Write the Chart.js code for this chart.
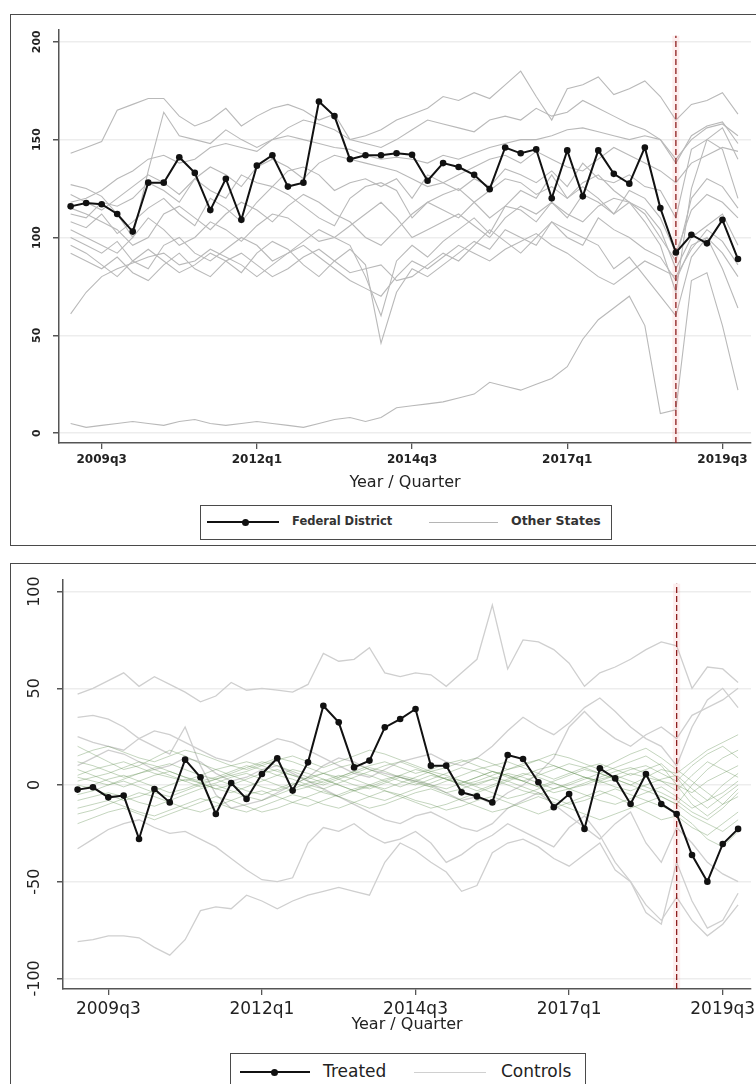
<!DOCTYPE html>
<html>
<head>
<meta charset="utf-8">
<script src="https://cdn.jsdelivr.net/npm/chart.js@4.4.0/dist/chart.umd.min.js"></script>
<style>
html,body{margin:0;padding:0;background:#fff;}
body{width:756px;height:1084px;overflow:hidden;position:relative;font-family:"DejaVu Sans",sans-serif;color:#222;}
.box{position:absolute;border:1.5px solid #4a4a4a;box-sizing:border-box;}
canvas{position:absolute;left:0;}
.legend{position:absolute;border:1.5px solid #4a4a4a;box-sizing:border-box;background:#fff;}
.legend .ls{position:absolute;height:0;}
.legend .dot{position:absolute;width:7px;height:7px;border-radius:50%;background:#111;}
.legend span{position:absolute;white-space:nowrap;line-height:1;}
</style>
</head>
<body>
<div class="box" style="left:10px;top:14px;width:760px;height:532px;"></div>
<div class="box" style="left:10px;top:563px;width:760px;height:540px;"></div>
<canvas id="top" width="756" height="486" style="top:14px;"></canvas>
<canvas id="bottom" width="756" height="482" style="top:563px;"></canvas>

<div class="legend" style="left:200px;top:505px;width:412px;height:35px;">
  <div class="ls" style="left:6px;top:15px;width:72px;border-top:2px solid #111;"></div>
  <div class="dot" style="left:41px;top:12.5px;"></div>
  <span style="left:91px;top:10px;font-size:11.5px;font-weight:bold;color:#333;">Federal District</span>
  <div class="ls" style="left:228px;top:15.5px;width:69px;border-top:1px solid #b5b5b5;"></div>
  <span style="left:310px;top:9px;font-size:12.5px;font-weight:bold;color:#333;">Other States</span>
</div>

<div class="legend" style="left:230px;top:1053px;width:356px;height:38px;">
  <div class="ls" style="left:9px;top:17px;width:70px;border-top:2px solid #111;"></div>
  <div class="dot" style="left:40px;top:14.5px;"></div>
  <span style="left:92px;top:9px;font-size:17px;color:#222;">Treated</span>
  <div class="ls" style="left:183px;top:17.5px;width:72px;border-top:1.5px solid #d0d0d0;"></div>
  <span style="left:270px;top:9px;font-size:17px;color:#222;">Controls</span>
</div>

<script>
// ---------------- categories ----------------
const quarters = [
 '2009q1','2009q2','2009q3','2009q4','2010q1','2010q2','2010q3','2010q4',
 '2011q1','2011q2','2011q3','2011q4','2012q1','2012q2','2012q3','2012q4',
 '2013q1','2013q2','2013q3','2013q4','2014q1','2014q2','2014q3','2014q4',
 '2015q1','2015q2','2015q3','2015q4','2016q1','2016q2','2016q3','2016q4',
 '2017q1','2017q2','2017q3','2017q4','2018q1','2018q2','2018q3','2018q4',
 '2019q1','2019q2','2019q3','2019q4'];
const xTickLabels = ['2009q3','2012q1','2014q3','2017q1','2019q3'];
const treatmentQuarter = '2018q4';

// ---------------- top panel ----------------
const topYTicks = [0,50,100,150,200];
const topYTickLabels = ['0','50','100','150','200'];
const federalDistrict = [115.9,117.6,117,112, 103,128,128,141, 133,114,130,109, 136.7,142,126,128,
 169.5,162,140,142, 142,143,142.3,129, 138,136,132,124.7, 146,143,145,120, 144.5,121,144.5,132.5,
 127.5,146,115,92.3, 101.4,97,109,89];
const otherState1  = [143,146,149,165, 168,171,171,162, 157,160,166,157, 162,166,168,165, 160,163,150,152, 155,160,163,166, 172,170,174,171, 178,185,172,160, 176,178,182,173, 176,180,172,160, 168,170,174,163];
const otherState2  = [127,125,121,112, 100,134,164,152, 150,148,155,150, 146,150,156,160, 158,155,150,148, 146,150,155,160, 158,156,154,160, 162,160,166,162, 164,170,166,162, 158,155,150,138, 152,157,159,148];
const otherState3  = [118,120,124,130, 134,140,142,138, 140,146,148,146, 144,150,152,150, 148,146,145,142, 140,141,140,138, 142,140,143,146, 148,150,150,152, 155,156,154,152, 150,152,150,140, 150,156,158,152];
const otherState4  = [122,118,114,120, 126,132,128,122, 130,136,132,126, 136,140,136,130, 138,142,140,138, 136,134,130,126, 128,132,136,140, 142,138,144,140, 136,134,140,146, 142,138,134,128, 138,142,146,144];
const otherState5  = [112,110,118,116, 120,128,124,118, 130,124,120,132, 128,126,134,136, 132,124,128,130, 126,130,120,132, 128,124,130,126, 135,132,128,134, 126,138,130,128, 132,126,124,110, 145,150,156,140];
const otherState6  = [115,112,108,104, 96,100,112,116, 110,104,112,118, 114,108,116,122, 118,112,108,100, 96,104,112,118, 114,110,118,124, 130,128,122,126, 120,128,132,124, 118,112,100,88, 120,130,126,115];
const otherState7  = [108,105,112,102, 108,115,120,112, 106,120,115,108, 118,126,122,116, 110,106,120,126, 128,124,110,118, 122,125,118,110, 116,124,120,132, 120,126,120,112, 118,108,96,72, 125,150,145,120];
const otherState8  = [104,100,96,92, 100,110,104,96, 100,108,104,98, 106,112,110,104, 98,100,106,112, 118,110,100,104, 108,112,106,100, 110,116,112,118, 110,122,118,112, 124,120,110,92, 114,122,118,110];
const otherState9  = [100,96,92,98, 88,84,96,100, 92,88,94,100, 96,88,92,98, 104,100,96,80, 60,88,96,90, 98,104,110,102, 116,114,108,118, 112,108,116,120, 118,114,104,84, 100,106,112,96];
const otherState10 = [96,92,86,80, 88,94,88,82, 86,92,88,82, 92,98,94,86, 80,88,94,86, 46,72,84,80, 86,92,98,94, 104,100,96,108, 100,96,110,104, 100,94,90,78, 96,100,92,80];
const otherState11 = [92,88,84,90, 82,78,86,92, 84,80,88,92, 86,80,84,90, 94,88,82,84, 86,78,80,86, 92,88,96,104, 98,92,100,108, 104,100,96,84, 90,80,70,60, 90,100,84,64];
const otherState12 = [61,72,80,84, 87,90,92,86, 88,94,90,86, 80,86,92,96, 90,84,78,74, 70,80,88,84, 90,96,92,88, 94,98,102,96, 92,86,80,76, 82,88,84,80, 94,104,98,86];
const otherState13 = [5,3,4,5, 6,5,4,6, 7,5,4,5, 6,5,4,3, 5,7,8,6, 8,13,14,15, 16,18,20,26, 24,22,25,28, 34,48,58,64, 70,55,10,12, 78,82,55,22];

// ---------------- bottom panel ----------------
const bottomYTicks = [-100,-50,0,50,100];
const bottomYTickLabels = ['-100','-50','0','50','100'];
const treated = [-2.4,-1.2,-6.4,-5.5, -27.9,-2.1,-9,13.1, 4,-15,1,-7.2, 5.7,13.8,-2.9,11.7,
 41,32.4,9.1,12.6, 29.8,34.1,39.3,10, 10,-3.8,-5.9,-9, 15.5,13.4,1.4,-11.5, -4.7,-22.7,8.6,3.4,
 -9.8,5.7,-9.8,-15, -36.2,-50,-30.5,-22.7];
const controlGray1 = [47,50,54,58, 51,56,52,48, 43,46,53,49, 50,49,48,52, 68,64,65,71, 58,56,58,57, 51,58,65,93, 60,75,74,70, 63,51,58,61, 65,70,74,72, 50,61,60,53];
const controlGray2 = [35,36,34,30, 24,20,16,30, 10,-5,-12,-10, -8,-4,0,4, 10,14,12,8, 6,4,2,0, -4,-8,-6,-10, -4,0,6,14, 30,38,30,24, 20,26,30,24, 36,40,44,50];
const controlGray3 = [-81,-80,-78,-78, -79,-84,-88,-80, -65,-63,-64,-57, -60,-64,-60,-57, -55,-53,-55,-57, -40,-30,-34,-40, -45,-55,-52,-35, -30,-28,-32,-38, -42,-36,-30,-44, -50,-62,-70,-58, -70,-78,-72,-62];
const controlGray4 = [-33,-28,-23,-20, -18,-22,-25,-24, -28,-32,-38,-44, -49,-50,-48,-30, -22,-24,-20,-26, -30,-28,-24,-30, -40,-36,-30,-26, -20,-24,-28,-32, -22,-16,-26,-40, -50,-66,-72,-40, -60,-74,-70,-56];
const controlGray5 = [25,22,20,18, 24,28,26,22, 18,14,12,16, 20,24,22,18, 14,10,6,4, 8,12,14,16, 12,10,14,20, 28,35,30,26, 32,40,45,38, 30,24,20,10, 30,44,50,40];
const controlGray6 = [10,14,18,16, 12,8,10,14, 12,6,2,4, 8,10,6,2, -2,-6,-10,-14, -18,-20,-16,-14, -18,-22,-24,-20, -12,-8,-4,-10, -16,-22,-28,-20, -14,-30,-40,-22, -30,-40,-46,-50];
const controlGreen1  = [5,8,10,12, 9,6,4,2, 5,8,10,12, 10,7,5,3, 6,9,11,8, 5,2,0,3, 6,9,7,4, 2,5,8,10, 7,4,1,3, 6,4,2,0, -4,2,6,10];
const controlGreen2  = [-5,-3,0,2, -1,-4,-6,-3, 0,3,5,2, -1,-3,0,4, 6,3,0,-2, 1,4,2,-1, -4,-2,1,3, 0,-3,-5,-2, 1,4,2,-1, -3,0,3,5, -2,-8,-4,2];
const controlGreen3  = [15,18,20,17, 14,12,15,18, 16,13,10,8, 11,14,12,9, 6,4,7,10, 12,9,6,8, 11,13,10,7, 4,2,5,8, 11,9,6,3, 0,4,8,6, 12,18,22,26];
const controlGreen4  = [-12,-10,-8,-11, -14,-16,-13,-10, -7,-9,-12,-14, -11,-8,-5,-7, -10,-12,-9,-6, -3,-5,-8,-10, -13,-11,-8,-6, -9,-12,-15,-12, -9,-6,-3,-6, -10,-14,-18,-16, -22,-26,-20,-14];
const controlGreen5  = [0,-2,-5,-8, -6,-3,0,3, 1,-2,-4,-1, 2,5,8,6, 3,0,-3,-1, 2,5,3,0, -2,1,4,7, 5,2,-1,-4, -2,1,4,7, 9,6,2,-3, 5,12,8,4];
const controlGreen6  = [20,16,12,8, 10,14,18,15, 11,8,5,7, 10,13,15,12, 9,12,15,18, 16,13,10,7, 9,12,14,11, 8,10,13,16, 14,11,8,12, 16,19,14,8, 2,-4,-10,-6];
const controlGreen7  = [-20,-17,-14,-12, -15,-18,-15,-12, -9,-6,-8,-11, -14,-12,-9,-6, -3,-6,-9,-12, -10,-7,-4,-2, -5,-8,-11,-14, -12,-9,-6,-9, -12,-15,-18,-15, -12,-9,-6,-10, -16,-20,-24,-18];
const controlGreen8  = [8,5,2,-1, 2,5,7,4, 1,-2,0,3, 6,8,5,2, 0,3,6,9, 7,4,1,-1, 2,5,8,10, 12,9,6,3, 6,9,11,8, 5,8,11,4, -6,-12,-6,0];
const controlGreen9  = [-8,-6,-4,-6, -9,-11,-8,-5, -2,0,-3,-6, -8,-5,-2,1, 3,0,-3,-6, -8,-5,-2,1, 4,2,-1,-4, -7,-5,-2,1, -2,-5,-8,-10, -7,-4,-1,-6, -12,-8,0,6];
const controlGreen10 = [12,10,7,4, 6,9,11,8, 5,3,6,9, 12,10,7,4, 1,4,7,5, 2,-1,2,5, 3,0,-3,0, 3,6,4,1, -2,0,3,5, 2,-1,-4,-8, -14,-18,-12,-4];
const controlGreen11 = [2,4,6,9, 12,10,7,4, 2,4,7,10, 8,5,3,0, -2,1,4,7, 10,12,9,6, 3,0,2,5, 8,11,13,10, 7,4,2,5, 8,10,6,2, 10,16,20,14];
const controlGreen12 = [-15,-13,-10,-7, -4,-6,-9,-12, -14,-11,-8,-5, -3,-6,-9,-11, -8,-5,-2,0, -3,-6,-9,-12, -10,-7,-4,-1, 2,-1,-4,-7, -10,-8,-5,-2, -5,-8,-11,-14, -20,-28,-32,-24];
const controlGreen13 = [4,2,0,3, 6,8,5,2, -1,1,4,6, 3,0,-3,-1, 2,5,3,0, -2,1,4,7, 5,2,0,3, 6,4,1,-2, 0,3,6,9, 12,15,10,0, -10,-16,-10,-2];
const controlGreen14 = [-3,0,3,5, 2,-1,-4,-2, 1,3,0,-3, -5,-2,1,-1, -4,-6,-3,0, 3,5,8,6, 3,1,4,7, 5,2,-1,2, 5,8,6,3, 0,-3,-6,-10, 0,8,14,18];

// ---------------- helpers ----------------
const toPts = arr => arr.map((v, i) => ({x: i, y: v}));
const tIdx = quarters.indexOf(treatmentQuarter);

function lineSet(arr, color, width) {
  return {data: toPts(arr), borderColor: color, borderWidth: width, pointRadius: 0, fill: false, tension: 0};
}
function mainSet(arr) {
  return {data: toPts(arr), borderColor: '#111', borderWidth: 2, pointRadius: 3.3,
          pointBackgroundColor: '#111', pointBorderWidth: 0, fill: false, tension: 0};
}
function vline(yMin, yMax) {
  return [
    {data: [{x: tIdx, y: yMin}, {x: tIdx, y: yMax}], borderColor: '#8e1f1f', borderWidth: 1.3,
     borderDash: [6, 3], pointRadius: 0, fill: false},
    {data: [{x: tIdx, y: yMin}, {x: tIdx, y: yMax}], borderColor: 'rgba(240,120,120,0.13)', borderWidth: 7,
     pointRadius: 0, fill: false}
  ];
}

function makeChart(id, p) {
  const ctx = document.getElementById(id);
  return new Chart(ctx, {
    type: 'line',
    data: {datasets: p.datasets},
    options: {
      responsive: false, animation: false, events: [],
      layout: {padding: {left: 0, right: 5, top: p.top, bottom: 0}},
      plugins: {legend: {display: false}, tooltip: {enabled: false}},
      scales: {
        x: {
          type: 'linear', min: p.xMin, max: p.xMax,
          afterBuildTicks: s => { s.ticks = xTickLabels.map(l => ({value: quarters.indexOf(l)})); },
          afterFit: s => { s.height = p.xHeight; s.paddingLeft = 0; s.paddingRight = 0; s.paddingTop = 0; s.paddingBottom = 0; },
          ticks: {autoSkip: false, maxRotation: 0, minRotation: 0, padding: p.xPad, color: '#222',
                  font: p.xFont, callback: v => quarters[v]},
          grid: {drawOnChartArea: false, tickColor: '#555', tickLength: 6, lineWidth: 1.3},
          border: {display: true, color: '#555', width: 1.5},
          title: {display: true, text: 'Year / Quarter', color: '#222',
                  font: {family: 'DejaVu Sans', size: 16}, padding: {top: 0, bottom: p.titlePad}}
        },
        y: {
          type: 'linear', min: p.yMin, max: p.yMax,
          afterBuildTicks: s => { s.ticks = p.yTicks.map(v => ({value: v})); },
          afterFit: s => { s.width = p.yWidth; s.paddingLeft = 0; s.paddingRight = 0; s.paddingTop = 0; s.paddingBottom = 0; },
          ticks: {minRotation: 90, maxRotation: 90, crossAlign: 'center', padding: p.yPad, color: '#222',
                  font: p.yFont, callback: v => p.yLabels[p.yTicks.indexOf(v)]},
          grid: {color: '#ededed', lineWidth: 1.5, tickColor: '#555', tickLength: 6},
          border: {display: true, color: '#555', width: 1.5}
        }
      }
    }
  });
}

// ---- top chart ----
const topOthers = [otherState1, otherState2, otherState3, otherState4, otherState5, otherState6, otherState7,
  otherState8, otherState9, otherState10, otherState11, otherState12, otherState13];
const TOP_YMIN = -5, TOP_YMAX = 206;
makeChart('top', {
  datasets: [mainSet(federalDistrict), ...vline(TOP_YMIN, TOP_YMAX - 3),
             ...topOthers.map(a => lineSet(a, '#b9b9b9', 1.1))],
  top: 16, xMin: -0.75, xMax: 43.84, yMin: TOP_YMIN, yMax: TOP_YMAX,
  xHeight: 57, yWidth: 59, xPad: 4, yPad: 4, titlePad: 8,
  xFont: {family: 'DejaVu Sans', size: 12, weight: 'bold'},
  yFont: {family: 'DejaVu Sans', size: 11, weight: 'bold'},
  yTicks: topYTicks, yLabels: topYTickLabels
});

// ---- bottom chart ----
const bottomGray = [controlGray1, controlGray2, controlGray3, controlGray4, controlGray5, controlGray6];
const bottomGreen = [controlGreen1, controlGreen2, controlGreen3, controlGreen4, controlGreen5, controlGreen6, controlGreen7,
  controlGreen8, controlGreen9, controlGreen10, controlGreen11, controlGreen12, controlGreen13, controlGreen14];
const BOT_YMIN = -105.5, BOT_YMAX = 106;
makeChart('bottom', {
  datasets: [mainSet(treated), ...vline(BOT_YMIN, BOT_YMAX - 2),
             ...bottomGreen.map(a => lineSet(a, 'rgba(100,145,85,0.38)', 1)),
             ...bottomGray.map(a => lineSet(a, '#cfcfcf', 1.3))],
  top: 17, xMin: -0.95, xMax: 43.84, yMin: BOT_YMIN, yMax: BOT_YMAX,
  xHeight: 56, yWidth: 63, xPad: 4, yPad: 4, titlePad: 11,
  xFont: {family: 'DejaVu Sans', size: 17},
  yFont: {family: 'DejaVu Sans', size: 16},
  yTicks: bottomYTicks, yLabels: bottomYTickLabels
});
</script>
</body>
</html>
